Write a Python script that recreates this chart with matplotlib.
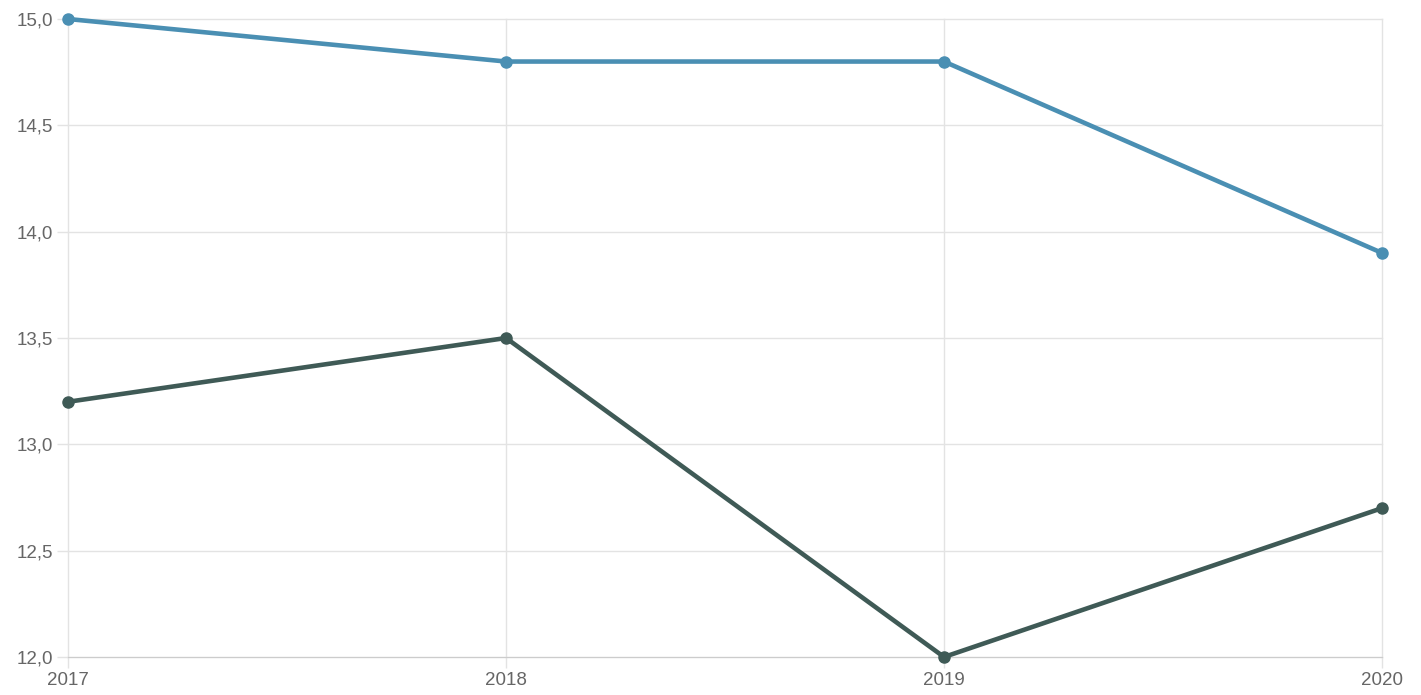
import matplotlib.pyplot as plt
from matplotlib.ticker import FuncFormatter

years = [2017, 2018, 2019, 2020]
serie_a = [15.0, 14.8, 14.8, 13.9]
serie_b = [13.2, 13.5, 12.0, 12.7]
y_ticks = [12.0, 12.5, 13.0, 13.5, 14.0, 14.5, 15.0]

plt.rcParams['font.family'] = ['Liberation Sans', 'DejaVu Sans']

fig = plt.figure(figsize=(14.21, 6.95), dpi=100)
ax = fig.add_axes([68 / 1421, 1 - 657 / 695, (1382 - 68) / 1421, (657 - 19) / 695])

ax.plot(years, serie_a, color='#4a8fb3', lw=3.3, marker='o', ms=8, clip_on=False, zorder=3)
ax.plot(years, serie_b, color='#3f5a56', lw=3.3, marker='o', ms=8, clip_on=False, zorder=3)

ax.set_xlim(2017, 2020)
ax.set_ylim(12, 15)
ax.set_xticks(years)
ax.set_yticks(y_ticks)
ax.yaxis.set_major_formatter(FuncFormatter(lambda v, p: f'{v:.1f}'.replace('.', ',')))

ax.grid(True, color='#e3e3e3', lw=1)
for gl in ax.get_xgridlines() + ax.get_ygridlines():
    gl.set_clip_on(False)
ax.set_axisbelow(True)
for s in ['top', 'right', 'left']:
    ax.spines[s].set_visible(False)
ax.spines['bottom'].set_color('#cccccc')
ax.tick_params(axis='both', colors='#e3e3e3', labelcolor='#666666', labelsize=13.5, length=8, width=1, pad=3)

fig.savefig('out.png', dpi=100)
